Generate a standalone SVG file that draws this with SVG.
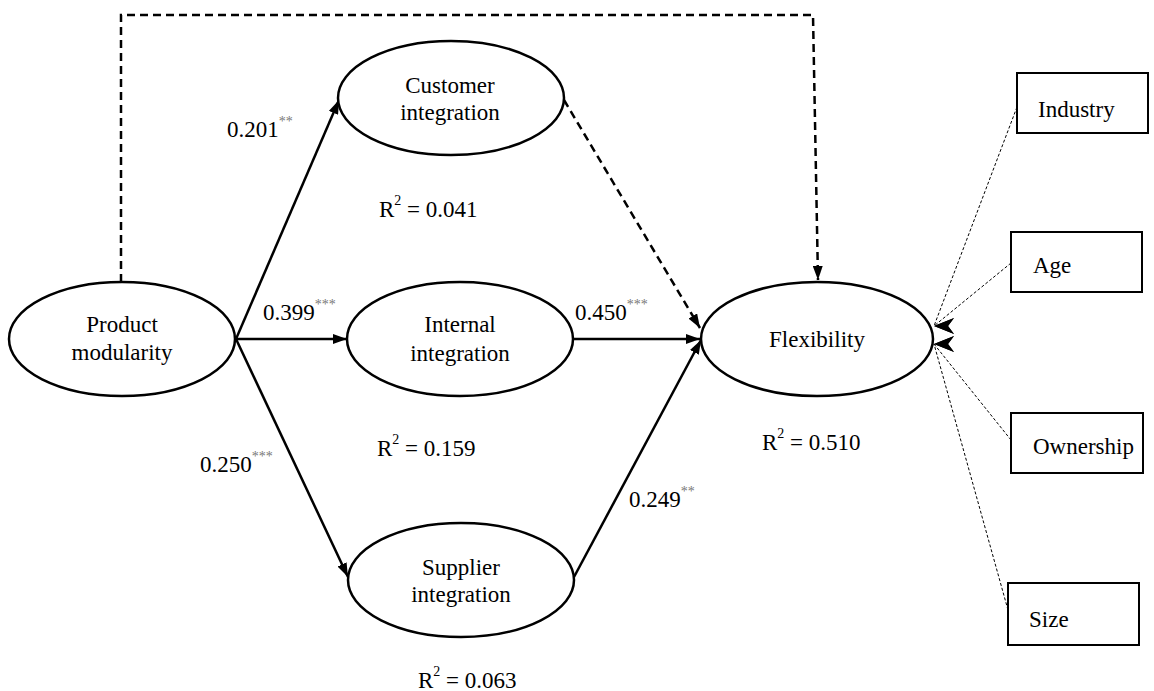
<svg xmlns="http://www.w3.org/2000/svg" width="1154" height="691" viewBox="0 0 1154 691">
<defs>
<style>
text{font-family:'Liberation Serif',Tinos,'Times New Roman',Times,'Nimbus Roman',FreeSerif,'Noto Serif','DejaVu Serif',serif;font-size:23px;fill:#000}
.n{text-anchor:middle}
.sup{font-size:14px}
.st{font-size:14px;fill:#777}
ellipse{fill:#fff;stroke:#000;stroke-width:2.5}
rect{fill:#fff;stroke:#000;stroke-width:2}
.s{fill:none;stroke:#000;stroke-width:2.5}
.d{fill:none;stroke:#000;stroke-width:2.5;stroke-dasharray:8,5}
.t{fill:none;stroke:#000;stroke-width:1;stroke-dasharray:3,2}
</style>
<marker id="a" viewBox="0 0 14 10" refX="14" refY="5" markerWidth="14" markerHeight="10" markerUnits="userSpaceOnUse" orient="auto"><path d="M0,0L14,5L0,10z" fill="#000"/></marker>
<marker id="L" viewBox="0 0 20 16" refX="0" refY="8" markerWidth="20" markerHeight="16" markerUnits="userSpaceOnUse" orient="0"><path d="M0,8L20,0L14,8L20,16z" fill="#000"/></marker>
</defs>
<g id="connectors">
<path class="d" d="M121,282V15H813L818,280" marker-end="url(#a)"/>
<line class="s" x1="236" y1="339" x2="339" y2="100" marker-end="url(#a)"/>
<line class="s" x1="236" y1="339" x2="347" y2="339" marker-end="url(#a)"/>
<line class="s" x1="236" y1="339" x2="348" y2="577" marker-end="url(#a)"/>
<line class="d" x1="564" y1="100" x2="700" y2="328" marker-end="url(#a)"/>
<line class="s" x1="573" y1="339" x2="700" y2="339" marker-end="url(#a)"/>
<line class="s" x1="574" y1="577" x2="701" y2="340" marker-end="url(#a)"/>
</g>
<g id="product-modularity"><ellipse cx="122" cy="339" rx="113" ry="57"/><text class="n" x="122" y="332">Product</text><text class="n" x="122" y="360">modularity</text></g>
<g id="customer-integration"><ellipse cx="451" cy="98" rx="113" ry="57"/><text class="n" x="450" y="93">Customer</text><text class="n" x="450" y="120">integration</text></g>
<g id="internal-integration"><ellipse cx="460" cy="339" rx="113" ry="57"/><text class="n" x="460" y="332">Internal</text><text class="n" x="460" y="361">integration</text></g>
<g id="supplier-integration"><ellipse cx="461" cy="580" rx="113" ry="57"/><text class="n" x="461" y="575">Supplier</text><text class="n" x="461" y="602">integration</text></g>
<g id="flexibility"><ellipse cx="817" cy="339" rx="116" ry="57"/><text class="n" x="817" y="347">Flexibility</text></g>
<g id="control-connectors">
<line class="t" x1="1017" y1="107" x2="934" y2="326" marker-end="url(#L)"/>
<line class="t" x1="1011" y1="263" x2="934" y2="326" marker-end="url(#L)"/>
<line class="t" x1="1011" y1="440" x2="934" y2="344" marker-end="url(#L)"/>
<line class="t" x1="1008" y1="610" x2="934" y2="344" marker-end="url(#L)"/>
</g>
<g id="industry"><rect x="1017" y="73" width="131" height="60"/><text x="1038" y="117">Industry</text></g>
<g id="age"><rect x="1011" y="232" width="131" height="60"/><text x="1033" y="273">Age</text></g>
<g id="ownership"><rect x="1011" y="413" width="132" height="60"/><text x="1033" y="454">Ownership</text></g>
<g id="size"><rect x="1008" y="583" width="131" height="62"/><text x="1029" y="627">Size</text></g>
<g id="labels">
<text x="227" y="137">0.201<tspan class="st" dy="-11">**</tspan></text>
<text x="263" y="320">0.399<tspan class="st" dy="-11">***</tspan></text>
<text x="200" y="472">0.250<tspan class="st" dy="-11">***</tspan></text>
<text x="575" y="320">0.450<tspan class="st" dy="-11">***</tspan></text>
<text x="629" y="507">0.249<tspan class="st" dy="-11">**</tspan></text>
<text x="379" y="217">R<tspan class="sup" dy="-12">2</tspan><tspan dy="12"> = 0.041</tspan></text>
<text x="377" y="456">R<tspan class="sup" dy="-12">2</tspan><tspan dy="12"> = 0.159</tspan></text>
<text x="418" y="688">R<tspan class="sup" dy="-12">2</tspan><tspan dy="12"> = 0.063</tspan></text>
<text x="762" y="450">R<tspan class="sup" dy="-12">2</tspan><tspan dy="12"> = 0.510</tspan></text>
</g>
</svg>
